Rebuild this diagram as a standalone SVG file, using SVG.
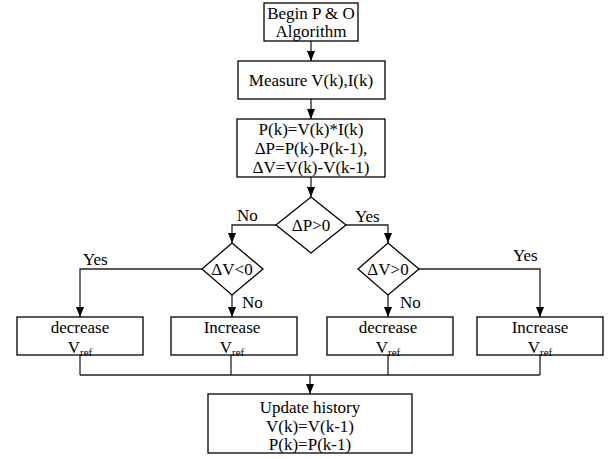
<svg xmlns="http://www.w3.org/2000/svg" width="611" height="459" viewBox="0 0 611 459">
<defs>
<style>
.box{fill:#fff;stroke:#000;stroke-width:1.3}
.t{font-family:"Liberation Serif","Times New Roman",serif;font-size:17px;fill:#000;text-anchor:middle}
.lb{font-family:"Liberation Serif","Times New Roman",serif;font-size:17px;fill:#000}
.c{fill:none;stroke:#222;stroke-width:1.3}
.sub{font-size:11px}
</style>
<marker id="ah" markerUnits="userSpaceOnUse" markerWidth="10" markerHeight="8" refX="10" refY="4" orient="auto">
<path d="M0,0 L10,4 L0,8 z" fill="#000"/>
</marker>
</defs>
<rect width="611" height="459" fill="#fff"/>
<g id="connectors">
<line class="c" x1="311" y1="41" x2="311" y2="61" marker-end="url(#ah)"/>
<line class="c" x1="311" y1="99" x2="311" y2="119" marker-end="url(#ah)"/>
<line class="c" x1="311" y1="177" x2="311" y2="197" marker-end="url(#ah)"/>
<polyline class="c" points="276,225 232,225 232,243" marker-end="url(#ah)"/>
<polyline class="c" points="346,225 388,225 388,243" marker-end="url(#ah)"/>
<polyline class="c" points="202,269 80,269 80,317" marker-end="url(#ah)"/>
<line class="c" x1="232" y1="295" x2="232" y2="317" marker-end="url(#ah)"/>
<line class="c" x1="388" y1="295" x2="388" y2="317" marker-end="url(#ah)"/>
<polyline class="c" points="419,269 540,269 540,317" marker-end="url(#ah)"/>
<line class="c" x1="80" y1="355" x2="80" y2="375"/>
<line class="c" x1="231" y1="355" x2="231" y2="375"/>
<line class="c" x1="388" y1="355" x2="388" y2="375"/>
<line class="c" x1="540" y1="355" x2="540" y2="375"/>
<line class="c" x1="80" y1="375" x2="540" y2="375"/>
<line class="c" x1="310" y1="375" x2="310" y2="394" marker-end="url(#ah)"/>
</g>
<g id="labels">
<text class="lb" x="237" y="221">No</text>
<text class="lb" x="355" y="222">Yes</text>
<text class="lb" x="83" y="265">Yes</text>
<text class="lb" x="513" y="261">Yes</text>
<text class="lb" x="242" y="308">No</text>
<text class="lb" x="400" y="308">No</text>
</g>
<g id="begin">
<rect class="box" x="264" y="3" width="94" height="38"/>
<text class="t" x="311" y="19">Begin P &amp; O</text>
<text class="t" x="311" y="37">Algorithm</text>
</g>
<g id="measure">
<rect class="box" x="238" y="61" width="147" height="38"/>
<text class="t" x="311" y="86">Measure V(k),I(k)</text>
</g>
<g id="compute">
<rect class="box" x="237" y="119" width="148" height="58"/>
<text class="t" x="311" y="135">P(k)=V(k)*I(k)</text>
<text class="t" x="311" y="154">ΔP=P(k)-P(k-1),</text>
<text class="t" x="311" y="173">ΔV=V(k)-V(k-1)</text>
</g>
<g id="dP">
<polygon class="box" points="311,197 346,225 311,253 276,225"/>
<text class="t" x="311" y="231">ΔP&gt;0</text>
</g>
<g id="dVneg">
<polygon class="box" points="232,243 263,269 232,295 202,269"/>
<text class="t" x="232" y="275">ΔV&lt;0</text>
</g>
<g id="dVpos">
<polygon class="box" points="388,243 419,269 388,295 358,269"/>
<text class="t" x="388" y="275">ΔV&gt;0</text>
</g>
<g id="dec1">
<rect class="box" x="17" y="317" width="126" height="38"/>
<text class="t" x="80" y="333">decrease</text>
<text class="t" x="80" y="353">V<tspan class="sub" dy="3">ref</tspan></text>
</g>
<g id="inc1">
<rect class="box" x="171" y="317" width="126" height="38"/>
<text class="t" x="232" y="333">Increase</text>
<text class="t" x="232" y="353">V<tspan class="sub" dy="3">ref</tspan></text>
</g>
<g id="dec2">
<rect class="box" x="327" y="317" width="126" height="38"/>
<text class="t" x="388" y="333">decrease</text>
<text class="t" x="388" y="353">V<tspan class="sub" dy="3">ref</tspan></text>
</g>
<g id="inc2">
<rect class="box" x="477" y="317" width="126" height="38"/>
<text class="t" x="540" y="333">Increase</text>
<text class="t" x="540" y="353">V<tspan class="sub" dy="3">ref</tspan></text>
</g>
<g id="update">
<rect class="box" x="208" y="394" width="204" height="59"/>
<text class="t" x="310" y="413">Update history</text>
<text class="t" x="310" y="432">V(k)=V(k-1)</text>
<text class="t" x="310" y="450">P(k)=P(k-1)</text>
</g>
</svg>
